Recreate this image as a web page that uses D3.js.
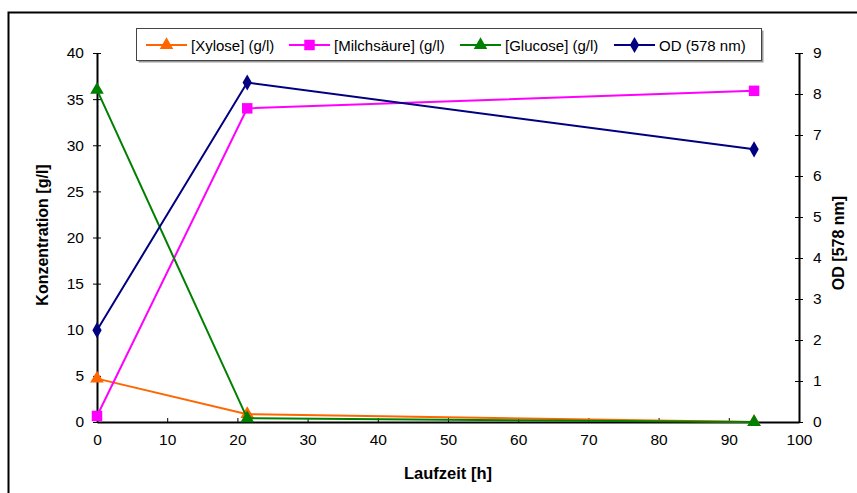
<!DOCTYPE html>
<html><head><meta charset="utf-8">
<script src="https://cdn.jsdelivr.net/npm/d3@7"></script>
<style>body{margin:0;background:#fff}svg{display:block;font-family:"Liberation Sans",Arial,sans-serif}</style>
</head><body><svg id="c" width="857" height="493"></svg>
<script>
const hours = [0, 21.4, 93.6];
const xylose = [4.7, 0.85, 0.0];
const milchsaeure = [0.65, 34.0, 35.9];
const glucose = [36.0, 0.4, 0.0];
const od = [2.24, 8.28, 6.65];
const xTicks = [0,10,20,30,40,50,60,70,80,90,100];
const yLeftTicks = [0,5,10,15,20,25,30,35,40];
const yRightTicks = [0,1,2,3,4,5,6,7,8,9];
const seriesNames = ["[Xylose] (g/l)", "[Milchsäure] (g/l)", "[Glucose] (g/l)", "OD (578 nm)"];

const svg = d3.select("#c");
svg.append("rect").attr("x",8.5).attr("y",12.5).attr("width",860).attr("height",490)
  .attr("fill","#fff").attr("stroke","#000").attr("stroke-width",2);

const x = d3.scaleLinear().domain([0,100]).range([97,799]);
const yL = d3.scaleLinear().domain([0,40]).range([422,53]);
const yR = d3.scaleLinear().domain([0,9]).range([422,53]);

const fs = "15.5px";
const gx = svg.append("g").attr("transform","translate(0,422)")
  .call(d3.axisBottom(x).tickValues(xTicks).tickSize(4).tickSizeOuter(0));
const gl = svg.append("g").attr("transform","translate(97,0)")
  .call(d3.axisLeft(yL).tickValues(yLeftTicks).tickSize(4).tickSizeOuter(0));
gl.selectAll(".tick line").attr("x2",4).attr("x1",-4);
const gr = svg.append("g").attr("transform","translate(799,0)")
  .call(d3.axisRight(yR).tickValues(yRightTicks).tickSize(4).tickSizeOuter(0));
gr.selectAll(".tick line").attr("x1",-4).attr("x2",4);
gx.selectAll(".tick line").attr("y1",-4).attr("y2",0);
[gx,gl,gr].forEach(g=>{
  g.attr("font-size",fs).attr("font-family","Liberation Sans, Arial, sans-serif");
  g.selectAll("text").attr("fill","#000");
  g.select(".domain").attr("stroke","#000").attr("stroke-width",2);
  g.selectAll(".tick line").attr("stroke","#000");
});
gx.selectAll("text").attr("y",9).attr("dy","0.9em");
gl.selectAll("text").attr("x",-13);
gr.selectAll("text").attr("x",14);

svg.append("text").attr("x",448).attr("y",479).attr("text-anchor","middle")
  .attr("font-size","16.5px").attr("font-weight","bold").text("Laufzeit [h]");
svg.append("text").attr("transform","translate(48,235) rotate(-90)").attr("text-anchor","middle")
  .attr("font-size","16px").attr("font-weight","bold").text("Konzentration [g/l]");
svg.append("text").attr("transform","translate(844,243) rotate(-90)").attr("text-anchor","middle")
  .attr("font-size","16px").attr("font-weight","bold").text("OD [578 nm]");

const tri = d3.symbol().type(d3.symbolTriangle).size(80);
const sq = d3.symbol().type(d3.symbolSquare).size(110);
const dia = d3.symbol().type(d3.symbolDiamond).size(75);

const series = [
  {vals:xylose, col:"#ff6600", sym:tri, y:yL},
  {vals:milchsaeure, col:"#ff00ff", sym:sq, y:yL},
  {vals:glucose, col:"#008000", sym:tri, y:yL},
  {vals:od, col:"#000080", sym:dia, y:yR}
];
series.forEach(s=>{
  const line = d3.line().x((d,i)=>x(hours[i])).y(d=>s.y(d));
  svg.append("path").attr("d",line(s.vals)).attr("fill","none").attr("stroke",s.col).attr("stroke-width",2);
  s.vals.forEach((v,i)=>{
    svg.append("path").attr("d",s.sym()).attr("fill",s.col)
      .attr("transform",`translate(${x(hours[i])},${s.y(v)})`);
  });
});

// legend
svg.append("rect").attr("x",138.5).attr("y",30.5).attr("width",625).attr("height",32).attr("fill","#999");
svg.append("rect").attr("x",136.5).attr("y",28.5).attr("width",625).attr("height",32).attr("fill","#fff").attr("stroke","#444").attr("stroke-width",1);
const legX = [146, 289, 460, 614];
series.forEach((s,i)=>{
  const lx = legX[i], ly = 45;
  svg.append("line").attr("x1",lx).attr("x2",lx+41).attr("y1",ly).attr("y2",ly).attr("stroke",s.col).attr("stroke-width",2);
  svg.append("path").attr("d",s.sym()).attr("fill",s.col).attr("transform",`translate(${lx+20.5},${ly})`);
  svg.append("text").attr("x",lx+45).attr("y",ly+5.5).attr("font-size","15px").text(seriesNames[i]);
});
</script></body></html>
